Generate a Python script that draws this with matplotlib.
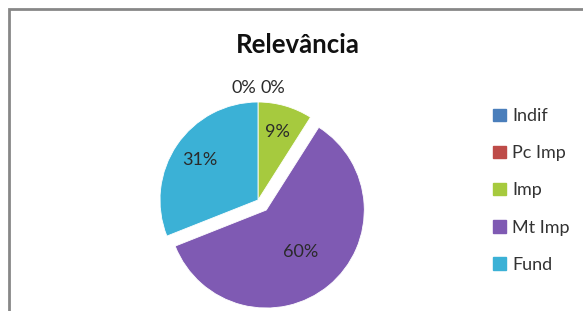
import numpy as np
import matplotlib.pyplot as plt
from matplotlib.patches import Patch, Rectangle

categories = ["Indif", "Pc Imp", "Imp", "Mt Imp", "Fund"]
values = [0, 0, 9, 60, 31]
colors = ["#4a7ebb", "#be4b48", "#a6ca3e", "#7f5ab3", "#3bb1d6"]
explode = [0, 0, 0, 0.13, 0]
label_dist = [0.72, 0.72, 0.72, 0.55, 0.72]

plt.rcParams['font.family'] = ['Lato', 'DejaVu Sans']

fig = plt.figure(figsize=(5.83, 3.11), dpi=100)
W, H = 583, 311

# chart border (bottom is cut off in the reference)
fig.add_artist(Rectangle((8.5 / W, -0.1), 1.2, (H - 8.5) / H + 0.1,
                         transform=fig.transFigure, fill=False,
                         edgecolor="#878787", linewidth=2))

fig.text(298 / W, 1 - 45 / H, "Relevância", ha="center", va="center",
         fontsize=18.5, fontweight="bold", color="#111111")

# pie axes: 100 px per data unit, centred at (258, 200) px
cx, cy, half = 258, 200, 125
ax = fig.add_axes([(cx - half) / W, (H - cy - half) / H, 2 * half / W, 2 * half / H])
ax.set_xlim(-1.25, 1.25)
ax.set_ylim(-1.25, 1.25)
ax.axis("off")

wedges, texts, autotexts = ax.pie(
    values, colors=colors, explode=explode, startangle=90, counterclock=False,
    radius=0.98, autopct="%d%%", pctdistance=0.72,
    wedgeprops=dict(edgecolor="white", linewidth=0.6),
    textprops=dict(fontsize=13, color="#2a2a2a"))

# move labels to per-slice distances, keeping the mid angle
for w, t, d, v in zip(wedges, autotexts, label_dist, values):
    if v == 0:
        continue
    a = np.deg2rad((w.theta1 + w.theta2) / 2)
    t.set_position((w.center[0] + d * w.r * np.cos(a), w.center[1] + d * w.r * np.sin(a)))

# zero slices: labels sit above the pie, side by side
zero_idx = [i for i, v in enumerate(values) if v == 0]
for k, i in enumerate(zero_idx):
    off = (k - (len(zero_idx) - 1) / 2) * 0.29
    autotexts[i].set_position((off, 1.12))
    autotexts[i].set_ha("center")

handles = [Patch(facecolor=c, edgecolor=c) for c in colors]
leg = fig.legend(handles, categories, loc="upper left",
                 bbox_to_anchor=(477 / W, 1 - 92 / H), frameon=False,
                 fontsize=13, handlelength=0.7, handleheight=0.7,
                 handletextpad=0.35, labelspacing=1.17)
for t in leg.get_texts():
    t.set_color("#333333")

fig.savefig("out.png", dpi=100)
